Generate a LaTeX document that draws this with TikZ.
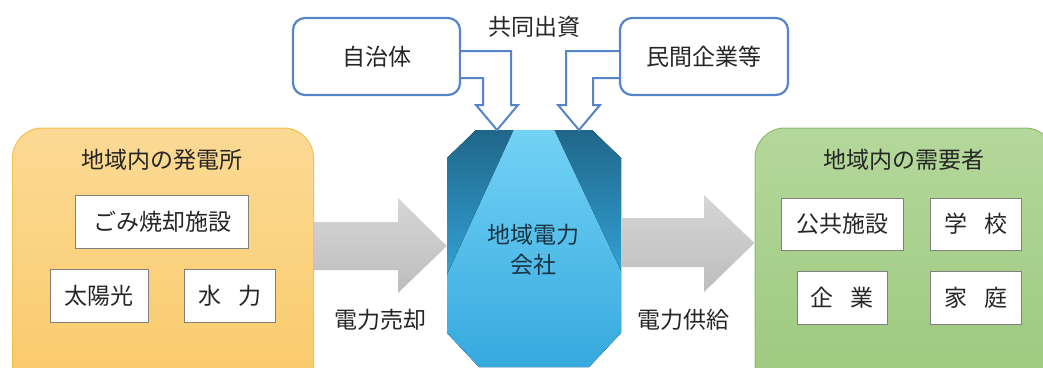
\documentclass[tikz,border=0pt]{standalone}
\usepackage{fontspec}
\newfontfamily\jp{Noto Sans CJK JP}
\usetikzlibrary{calc}
\definecolor{ortop}{HTML}{FCDA95}
\definecolor{orbot}{HTML}{F9C865}
\definecolor{ordraw}{HTML}{F4C04E}
\definecolor{grtop}{HTML}{B4D89B}
\definecolor{grbot}{HTML}{9AC77C}
\definecolor{grdraw}{HTML}{8DBB6E}
\definecolor{bluebd}{HTML}{5585C8}
\definecolor{gtop}{HTML}{D6D6D6}
\definecolor{gbot}{HTML}{BDBDBD}
\definecolor{cbase1}{HTML}{35A8DD}
\definecolor{cdark}{HTML}{1F6487}
\definecolor{clight}{HTML}{74D3F6}
\definecolor{txt}{HTML}{262626}
\definecolor{cotxt}{HTML}{1A3444}
\begin{document}
\begin{tikzpicture}[x=1pt,y=-1pt,
  every node/.style={font=\jp\fontsize{23}{30}\selectfont, text=txt},
  regionbox/.style={rounded corners=30pt, line width=1pt},
  itembox/.style={draw=black!50, fill=white, line width=0.8pt, inner sep=0pt},
  topbox/.style={draw=bluebd, fill=white, line width=2.2pt, rounded corners=12pt, minimum width=167pt, minimum height=77pt},
  bentarrow/.style={draw=bluebd, fill=white, line width=2pt, line join=miter},
  grayarrow/.style={top color=gtop, bottom color=gbot, draw=none}
]
\useasboundingbox (0,0) rectangle (1043,367);
\clip (0,0) rectangle (1043,367);

% region boxes
\node[regionbox, draw=ordraw, top color=ortop, bottom color=orbot, minimum width=301pt, minimum height=290pt] (gen) at (163,273) {};
\node[regionbox, draw=grdraw, top color=grtop, bottom color=grbot, minimum width=300pt, minimum height=290pt] (dem) at (905,273) {};

\node (gentitle) at (162,160) {地域内の発電所};
\node (demtitle) at (904,160) {地域内の需要者};

% items left
\node[itembox, minimum width=173pt, minimum height=53pt] (gomi) at (162,222) {ごみ焼却施設};
\node[itembox, minimum width=98pt, minimum height=53pt] (solar) at (99,296) {太陽光};
\node[itembox, minimum width=91pt, minimum height=53pt] (hydro) at (230,296) {水\hspace{0.75em}力};

% items right
\node[itembox, minimum width=122pt, minimum height=52pt] (pub) at (842,224) {公共施設};
\node[itembox, minimum width=91pt, minimum height=52pt] (school) at (976,224) {学\hspace{0.75em}校};
\node[itembox, minimum width=90pt, minimum height=53pt] (corp) at (842,298) {企\hspace{0.75em}業};
\node[itembox, minimum width=91pt, minimum height=53pt] (home) at (976,298) {家\hspace{0.75em}庭};

% central company shape
\begin{scope}
  \clip (476,130) -- (592,130) -- (621,158) -- (621,333) -- (589,367) -- (479,367) -- (447,333) -- (447,158) -- cycle;
  \fill[cbase1] (440,125) rectangle (630,372);
  \fill[top color=cdark, bottom color=cbase1] (440,125) -- (516,125) -- (440,290) -- cycle;
  \fill[top color=cdark, bottom color=cbase1] (630,125) -- (552,125) -- (630,290) -- cycle;
  \fill[top color=clight, bottom color=cbase1] (516,125) -- (552,125) -- (630,290) -- (630,372) -- (440,372) -- (440,290) -- cycle;
\end{scope}
\node[minimum width=174pt, minimum height=237pt, inner sep=0pt] (co) at (534,248.5) {};
\node[align=center, text=cotxt] (cotext) at (533,250) {地域電力\\会社};

% gray arrows
\draw[grayarrow] (gen.east |- 0,222) -- (398,222) -- (398,198) -- (co.west |- 0,246) -- (398,293) -- (398,270) -- (gen.east |- 0,270) -- cycle;
\draw[grayarrow] (co.east |- 0,218) -- (704,218) -- (704,195) -- (dem.west |- 0,243) -- (704,292) -- (704,267) -- (co.east |- 0,267) -- cycle;

\node (sell) at (380,320) {電力売却};
\node (supply) at (683,320) {電力供給};

% top investors
\node[topbox] (gov) at (376.5,56.5) {自治体};
\node[topbox, minimum width=168pt] (priv) at (704,56.5) {民間企業等};
\node (joint) at (534,27) {共同出資};

\draw[bentarrow] (gov.east |- 0,51) -- (511,51) -- (511,105) -- (518,105) -- (497,130) -- (476,105) -- (483,105) -- (483,78) -- (gov.east |- 0,78);
\draw[bentarrow] (priv.west |- 0,51) -- (566,51) -- (566,105) -- (558,105) -- (579,130) -- (600,105) -- (593,105) -- (593,78) -- (priv.west |- 0,78);
\end{tikzpicture}
\end{document}
